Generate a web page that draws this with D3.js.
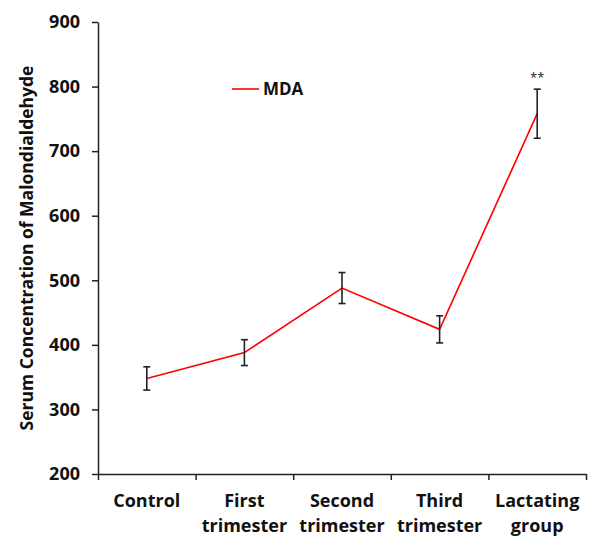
<!DOCTYPE html>
<html>
<head>
<meta charset="utf-8">
<script src="https://cdn.jsdelivr.net/npm/d3@7"></script>
<style>
  body { margin: 0; background: #fff; }
  svg { display: block; font-family: "Open Sans", sans-serif; }
  .axis path, .axis line { stroke: #222; stroke-width: 1.5; }
  .axis text { font-weight: bold; fill: #111; }
</style>
</head>
<body>
<svg id="chart"></svg>
<script>
// data
const categories = [["Control"], ["First", "trimester"], ["Second", "trimester"], ["Third", "trimester"], ["Lactating", "group"]]
const mdaValues = [348, 388, 488, 424, 758]
const mdaErrors = [18, 20, 24, 21, 38]
const yTicks = [200, 300, 400, 500, 600, 700, 800, 900]
const marks = ["", "", "", "", "**"]

const width = 589, height = 536
const margin = { top: 22, right: 3, bottom: 62, left: 98 }
const innerW = width - margin.left - margin.right
const innerH = height - margin.top - margin.bottom
const FONT = '"Open Sans", sans-serif'

const svg = d3.select('#chart')
    .attr('width', width)
    .attr('height', height)

const chart = svg.append('g')
    .attr('transform', `translate(${margin.left}, ${margin.top})`)

const xScale = d3.scaleBand()
    .domain(d3.range(categories.length))
    .range([0, innerW])

const xTickScale = d3.scaleLinear()
    .domain([0, categories.length])
    .range([0, innerW])

const yScale = d3.scaleLinear()
    .domain([200, 900])
    .range([innerH, 0])

// y axis
const yAxisGroup = chart.append('g')
    .attr('class', 'axis y-axis')
    .call(d3.axisLeft(yScale).tickValues(yTicks).tickSize(6).tickPadding(12).tickSizeOuter(0))
yAxisGroup
    .attr('font-size', 18)
    .attr('font-family', FONT)
yAxisGroup.selectAll('text')
    .attr('font-size', 18)
    .attr('font-weight', 'bold')

// x axis: ticks on category boundaries
chart.append('g')
    .attr('class', 'axis x-axis')
    .attr('transform', `translate(0, ${innerH})`)
    .call(d3.axisBottom(xTickScale).tickValues(d3.range(categories.length + 1)).tickFormat('').tickSize(6).tickSizeOuter(0))

// x labels, two lines where needed
const xLabels = chart.append('g')
    .attr('class', 'axis')
    .attr('font-family', FONT)
    .selectAll('text')
    .data(categories)
    .join('text')
        .attr('x', (d, i) => xScale(i) + xScale.bandwidth() / 2)
        .attr('y', innerH + 33)
        .attr('text-anchor', 'middle')
        .attr('font-size', 18)

xLabels.selectAll('tspan')
    .data(d => d)
    .join('tspan')
        .attr('x', function() { return this.parentNode.getAttribute('x') })
        .attr('dy', (d, i) => i === 0 ? 0 : 25)
        .text(d => d)

// y title
svg.append('text')
    .attr('transform', `translate(33, ${margin.top + 226}) rotate(-90)`)
    .attr('text-anchor', 'middle')
    .attr('font-family', FONT)
    .attr('font-size', 17.5)
    .attr('font-weight', 'bold')
    .attr('fill', '#111')
    .text('Serum Concentration of Malondialdehyde')

const xValue = i => xScale(i) + xScale.bandwidth() / 2

// line
const line = d3.line()
    .x((d, i) => xValue(i))
    .y(d => yScale(d))

chart.append('path')
    .datum(mdaValues)
    .attr('fill', 'none')
    .attr('stroke', '#ff0000')
    .attr('stroke-width', 1.6)
    .attr('d', line)

// error bars
const errs = chart.append('g')
    .selectAll('g')
    .data(mdaValues)
    .join('g')
        .attr('stroke', '#222')
        .attr('stroke-width', 1.6)

errs.append('line')
    .attr('x1', (d, i) => xValue(i))
    .attr('x2', (d, i) => xValue(i))
    .attr('y1', (d, i) => yScale(d + mdaErrors[i]))
    .attr('y2', (d, i) => yScale(d - mdaErrors[i]))

errs.append('line')
    .attr('x1', (d, i) => xValue(i) - 3.5)
    .attr('x2', (d, i) => xValue(i) + 3.5)
    .attr('y1', (d, i) => yScale(d + mdaErrors[i]))
    .attr('y2', (d, i) => yScale(d + mdaErrors[i]))

errs.append('line')
    .attr('x1', (d, i) => xValue(i) - 3.5)
    .attr('x2', (d, i) => xValue(i) + 3.5)
    .attr('y1', (d, i) => yScale(d - mdaErrors[i]))
    .attr('y2', (d, i) => yScale(d - mdaErrors[i]))

// significance marks
chart.append('g')
    .selectAll('text')
    .data(mdaValues)
    .join('text')
        .attr('x', (d, i) => xValue(i))
        .attr('y', (d, i) => yScale(d + mdaErrors[i]) - 7)
        .attr('text-anchor', 'middle')
        .attr('font-family', FONT)
        .attr('font-size', 13)
        .attr('fill', '#222')
        .text((d, i) => marks[i])

// legend
const legend = svg.append('g')
    .attr('transform', 'translate(232, 89)')
legend.append('line')
    .attr('x1', 0).attr('x2', 27)
    .attr('stroke', '#ff0000')
    .attr('stroke-width', 1.6)
legend.append('text')
    .attr('x', 31)
    .attr('dy', '0.35em')
    .attr('font-family', FONT)
    .attr('font-size', 17)
    .attr('font-weight', 'bold')
    .attr('fill', '#111')
    .text('MDA')
</script>
</body>
</html>
